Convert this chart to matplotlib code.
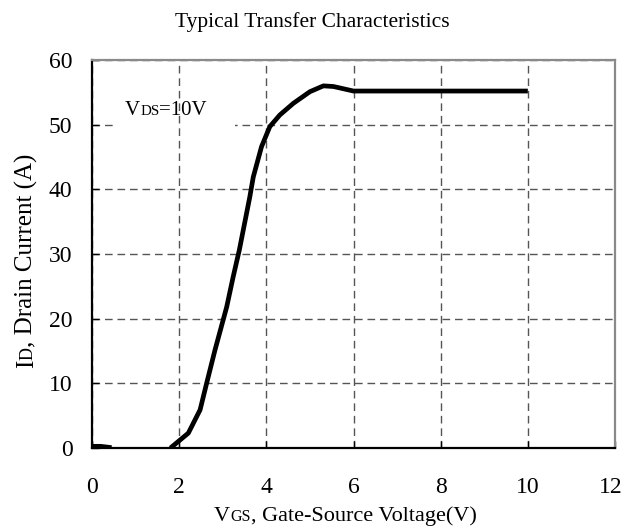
import matplotlib
matplotlib.use("Agg")
import matplotlib.pyplot as plt
import matplotlib.transforms as mtransforms
from matplotlib.patches import Rectangle

# ---- data ----
leak_vgs = [0.0, 0.2, 0.45]
leak_id = [0.3, 0.3, 0.1]
vgs = [1.8, 2.21, 2.48, 2.63, 2.82, 3.09, 3.24, 3.38, 3.62, 3.70, 3.89, 4.08,
       4.31, 4.62, 5.0, 5.31, 5.54, 6.0, 10.0]
drain_id = [0.0, 2.3, 5.9, 10.0, 15.1, 21.8, 26.5, 30.6, 38.8, 41.9, 46.6, 49.7,
            51.5, 53.3, 55.1, 56.0, 55.9, 55.2, 55.2]
xticks = [0, 2, 4, 6, 8, 10, 12]
yticks = [0, 10, 20, 30, 40, 50, 60]
title = "Typical Transfer Characteristics"
xlabel_parts = [("V", 1.0), ("GS", 0.72), (", Gate-Source Voltage(V)", 1.0)]
ylabel_parts = [("I", 1.0), ("D", 0.72), (", Drain Current (A)", 1.0)]
note_parts = [("V", 1.0), ("DS", 0.72), ("=10V", 1.0)]

plt.rcParams['font.family'] = ['Liberation Serif', 'DejaVu Serif']

W, H = 625, 530
fig = plt.figure(figsize=(W / 100, H / 100), dpi=100)
ax = fig.add_axes([92 / W, 1 - 448 / H, (615 - 92) / W, (448 - 60) / H])

ax.plot(leak_vgs, leak_id, color='black', lw=3, solid_capstyle='butt', zorder=2)
ax.plot(vgs, drain_id, color='black', lw=3.4, solid_capstyle='butt',
        solid_joinstyle='round', zorder=2)

ax.set_xlim(0, 12)
ax.set_ylim(0, 60)
ax.set_xticks(xticks)
ax.set_yticks(yticks)
ax.tick_params(direction='in', length=5, width=1, colors='black', labelsize=17)
ax.tick_params(axis='x', pad=21)
ax.tick_params(axis='y', pad=14)

# keep the last x tick label inside the canvas
last = ax.get_xticklabels()[-1]
last.set_transform(last.get_transform() +
                   mtransforms.ScaledTranslation(-4 / 100, 0, fig.dpi_scale_trans))

ax.grid(True, color='#555555', lw=1, linestyle=(0, (5.5, 3.5)))
ax.set_axisbelow(True)
ax.yaxis.set_zorder(0.5)
ax.xaxis.set_zorder(1.5)

# white gap in the 50 A grid line behind the note
ax.add_patch(Rectangle(((117 - 92) / 523, 49.3), (235 - 117) / 523, 1.4,
                       transform=mtransforms.blended_transform_factory(ax.transAxes, ax.transData),
                       facecolor='white', edgecolor='none', zorder=1.0))

for s in ['left', 'bottom']:
    ax.spines[s].set_color('black')
    ax.spines[s].set_linewidth(1.6)
for s in ['top', 'right']:
    ax.spines[s].set_color('#8a8a8a')
    ax.spines[s].set_linewidth(1.6)

fig.text(0.5, 1 - 27 / H, title, ha='center', va='baseline', fontsize=15.5)

renderer = fig.canvas.get_renderer()


def chain(parts, x0, y0, size, rotation=0):
    x, y = x0, y0
    for s, f in parts:
        t = fig.text(x, y, s, fontsize=size * f, rotation=rotation,
                     rotation_mode='anchor', ha='left', va='baseline', zorder=5)
        bb = t.get_window_extent(renderer)
        if rotation == 0:
            x = bb.x1 / W
        else:
            y = bb.y1 / H


chain(xlabel_parts, 214 / W, 1 - 521 / H, 16)
chain(ylabel_parts, 33 / W, 1 - 368 / H, 18, rotation=90)
chain(note_parts, 125 / W, 1 - 115 / H, 15)

fig.savefig("out.png", dpi=100)
